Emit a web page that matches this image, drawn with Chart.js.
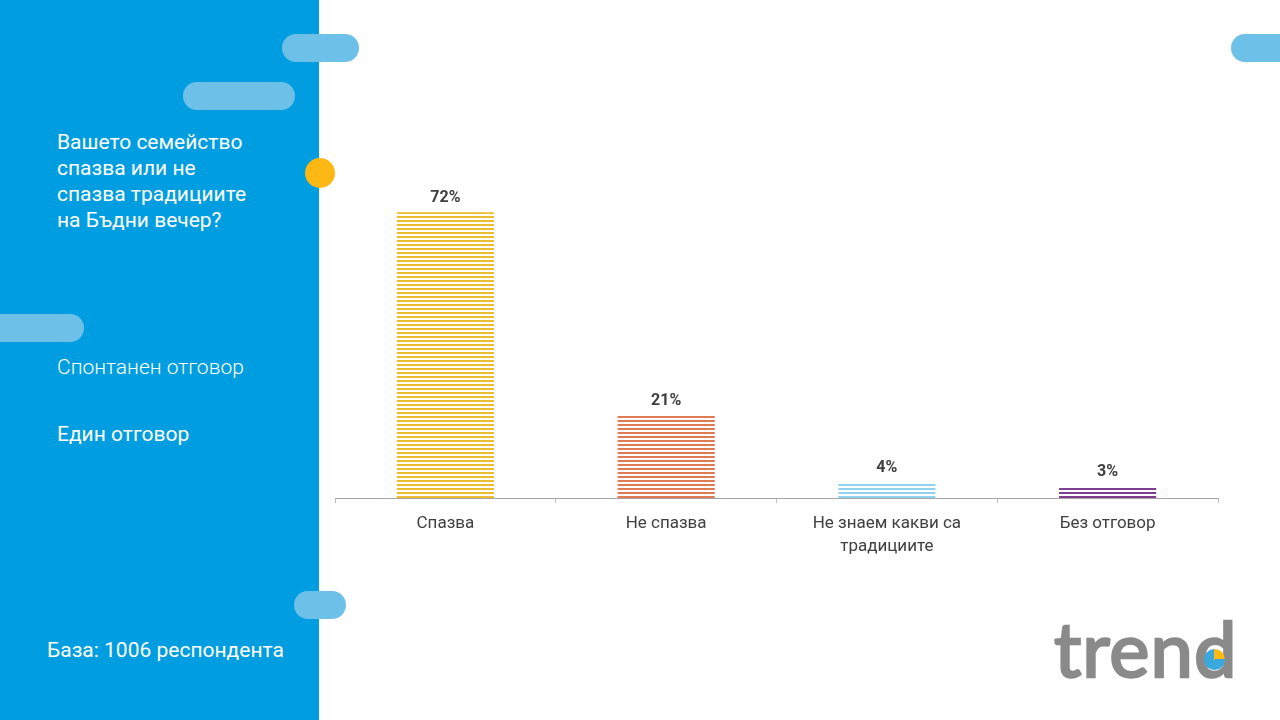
<!DOCTYPE html>
<html>
<head>
<meta charset="utf-8">
<script src="https://cdn.jsdelivr.net/npm/chart.js@4.4.0/dist/chart.umd.min.js"></script>
<style>
  html,body{margin:0;padding:0;width:1280px;height:720px;overflow:hidden;background:#fff;font-family:Roboto,"Noto Sans",sans-serif;}
  #panel{position:absolute;left:0;top:0;width:319px;height:720px;background:#009ee0;}
  .pill{position:absolute;height:28px;border-radius:14px;background:#6dc1e9;}
  #dot{position:absolute;left:305px;top:158px;width:30px;height:30px;border-radius:50%;background:#fdb813;}
  .txt{position:absolute;color:#fff;font-size:21px;line-height:26px;white-space:nowrap;}
  #chartWrap{position:absolute;left:320px;top:60px;width:920px;height:520px;}
  #logo{position:absolute;left:1054px;top:603px;font-family:Lato,Roboto,sans-serif;font-weight:400;font-size:76px;color:#8a8a8a;-webkit-text-stroke:2.5px #8a8a8a;letter-spacing:1px;line-height:90px;white-space:nowrap;}
  #dch{position:relative;display:inline-block;}
  #pie{position:absolute;left:0.13em;top:0.6em;width:0.28em;height:0.28em;border-radius:50%;background:conic-gradient(#fdb813 0 25%, #3aa8dc 25% 100%);}
</style>
</head>
<body>
<div id="panel"></div>
<div class="pill" style="left:282px;top:34px;width:77px;"></div>
<div class="pill" style="left:183px;top:82px;width:112px;"></div>
<div class="pill" style="left:-14px;top:314px;width:98px;"></div>
<div class="pill" style="left:294px;top:591px;width:52px;"></div>
<div class="pill" style="left:1231px;top:34px;width:70px;"></div>
<div id="dot"></div>
<div class="txt" style="left:57px;top:129px;">Вашето семейство<br>спазва или не<br>спазва традициите<br>на Бъдни вечер?</div>
<div class="txt" style="left:57px;top:354px;font-weight:300;">Спонтанен отговор</div>
<div class="txt" style="left:57px;top:421px;">Един отговор</div>
<div class="txt" style="left:47px;top:637px;">База: 1006 респондента</div>
<div id="logo">tren<span id="dch">d<span id="pie"></span></span></div>
<div id="chartWrap"><canvas id="c" width="920" height="520"></canvas></div>
<script>
const categories = ["Спазва", "Не спазва", ["Не знаем какви са", "традициите"], "Без отговор"];
const values = [72, 21, 4, 3];
const valueLabels = ["72%", "21%", "4%", "3%"];
const barColors = ["#eebd2f", "#e07a50", "#8fd3ee", "#7e3f8f"];

function stripes(color){
  const p = document.createElement('canvas');
  p.width = 4; p.height = 4;
  const g = p.getContext('2d');
  g.fillStyle = '#ffffff'; g.fillRect(0,0,4,4);
  g.fillStyle = color; g.fillRect(0,0,4,2);
  return g.createPattern(p,'repeat');
}

const labelPlugin = {
  id:'valLabels',
  afterDatasetsDraw(chart){
    const ctx = chart.ctx;
    const meta = chart.getDatasetMeta(0);
    ctx.save();
    ctx.font = 'bold 16px Roboto, sans-serif';
    ctx.fillStyle = '#3f3f3f';
    ctx.textAlign = 'center';
    ctx.textBaseline = 'bottom';
    meta.data.forEach((bar,i)=>{
      ctx.fillText(valueLabels[i], bar.x, bar.y - 6);
    });
    ctx.restore();
  }
};

new Chart(document.getElementById('c'), {
  type:'bar',
  data:{
    labels: categories,
    datasets:[{
      data: values,
      backgroundColor: barColors.map(stripes),
      borderWidth:0,
      barPercentage:0.44,
      categoryPercentage:1.0
    }]
  },
  options:{
    responsive:false,
    animation:false,
    layout:{padding:{left:15,right:22,top:41,bottom:13}},
    plugins:{legend:{display:false},tooltip:{enabled:false}},
    scales:{
      y:{display:false,min:0,max:100},
      x:{
        grid:{drawOnChartArea:false,drawTicks:true,tickLength:5,color:'#bfbfbf',offset:true},
        border:{display:true,color:'#a6a6a6',dash:[1,1]},
        ticks:{color:'#404040',font:{size:17,family:'Roboto',lineHeight:1.35},padding:9,maxRotation:0}
      }
    }
  },
  plugins:[labelPlugin]
});
</script>
</body>
</html>
